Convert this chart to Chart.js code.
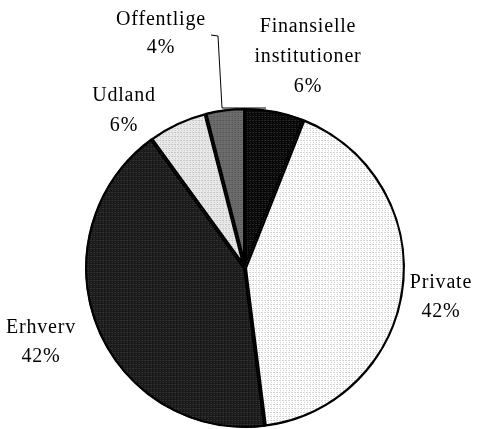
<!DOCTYPE html>
<html lang="da">
  <head>
    <meta charset="UTF-8" />
    <title>Fordeling</title>
    <script src="https://cdn.jsdelivr.net/npm/chart.js"></script>
    <style>
      html, body { margin: 0; padding: 0; background: #fff; }
      #pieChart { display: block; }
    </style>
  </head>
  <body>
    <canvas id="pieChart" width="477" height="429"></canvas>

    <script>
      // Data
      const categories = ['Finansielle institutioner', 'Private', 'Erhverv', 'Udland', 'Offentlige'];
      const shares = [6, 42, 42, 6, 4];

      // Label text lines per slice (name split on lines + percent)
      const labelLines = [
        ['Finansielle', 'institutioner'],
        ['Private'],
        ['Erhverv'],
        ['Udland'],
        ['Offentlige'],
      ];

      // small dotted tiles to mimic the printed fill patterns
      function makePattern(base, dot) {
        const c = document.createElement('canvas');
        c.width = 3;
        c.height = 4;
        const g = c.getContext('2d');
        g.fillStyle = base;
        g.fillRect(0, 0, 3, 4);
        g.fillStyle = dot;
        g.fillRect(0, 0, 2, 1);
        g.fillRect(1, 2, 1, 1);
        return g.createPattern(c, 'repeat');
      }

      const ctx = document.getElementById('pieChart').getContext('2d');
      const fills = [
        makePattern('#080808', '#262626'),
        makePattern('#ffffff', '#d4d4d4'),
        makePattern('#1a1a1a', '#333333'),
        makePattern('#e8e8e8', '#c8c8c8'),
        makePattern('#6c6c6c', '#595959'),
      ];

      // label offsets from pie centre (layout only)
      const labelOffsets = [
        [63, -211], [196, 29], [-204, 74], [-121, -157], [-84, -234],
      ];
      const lineGaps = [30, 29, 29, 30, 28];

      const labelPlugin = {
        id: 'pieLabels',
        afterDatasetsDraw(chart) {
          const arc = chart.getDatasetMeta(0).data[0];
          const cx = arc.x;
          const cy = arc.y;
          const c = chart.ctx;
          c.save();
          c.font = '20px "Liberation Serif", "Times New Roman", serif';
          c.letterSpacing = '0.8px';
          c.fillStyle = '#000';
          c.textAlign = 'center';
          c.textBaseline = 'middle';
          labelLines.forEach((lines, i) => {
            const all = lines.concat([shares[i] + '%']);
            const lh = lineGaps[i];
            const x = cx + labelOffsets[i][0];
            const y0 = cy + labelOffsets[i][1] - ((all.length - 1) * lh) / 2;
            all.forEach((t, k) => c.fillText(t, x, y0 + k * lh));
          });
          // leader line for the small "Offentlige" slice
          c.strokeStyle = '#000';
          c.lineWidth = 1;
          c.beginPath();
          c.moveTo(cx - 34, cy - 233);
          c.lineTo(cx - 27, cy - 232);
          c.lineTo(cx - 23, cy - 160);
          c.lineTo(cx + 21, cy - 160);
          c.stroke();
          c.restore();
        },
      };

      new Chart(ctx, {
        type: 'pie',
        data: {
          labels: categories,
          datasets: [
            {
              data: shares,
              backgroundColor: fills,
              borderColor: '#000',
              borderWidth: 2,
              borderAlign: 'inner',
            },
          ],
        },
        options: {
          responsive: false,
          animation: false,
          layout: { padding: { top: 108, bottom: 1, left: 85, right: 72 } },
          plugins: {
            legend: { display: false },
            tooltip: { enabled: false },
          },
        },
        plugins: [labelPlugin],
      });
    </script>
  </body>
</html>
